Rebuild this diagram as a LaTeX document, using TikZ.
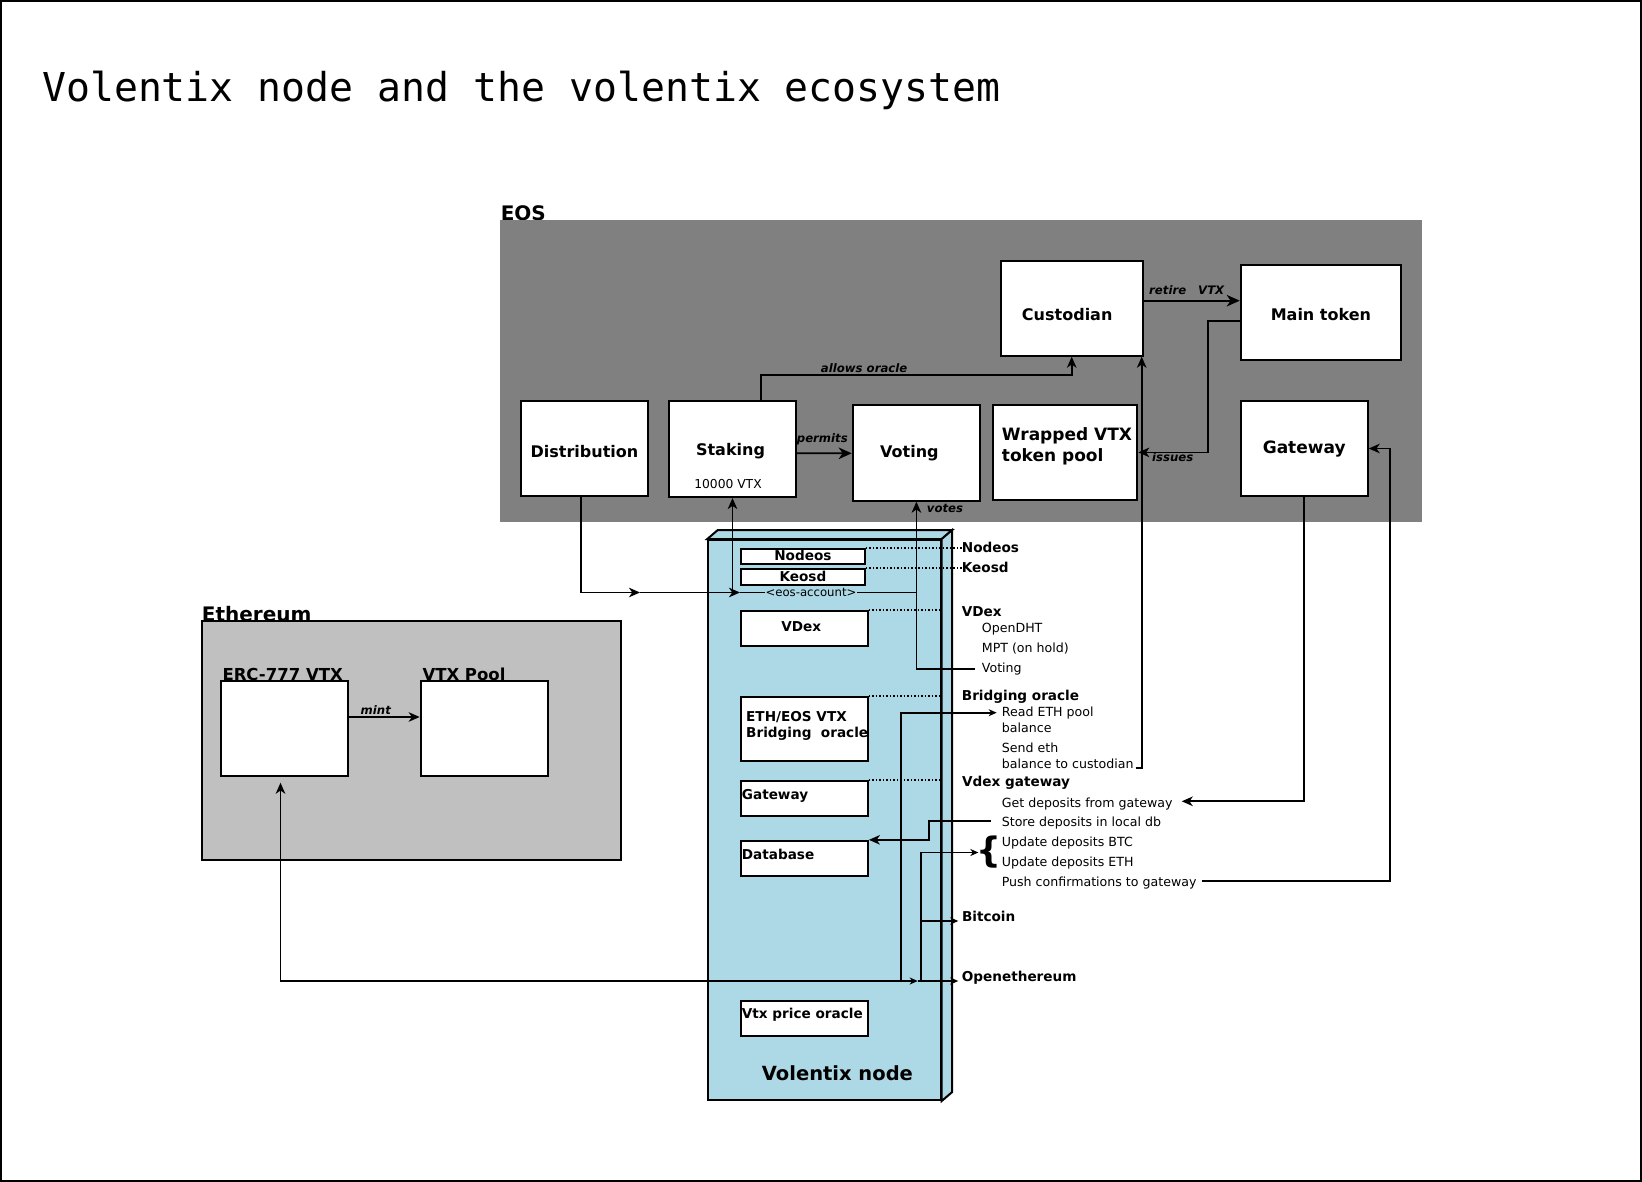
\documentclass[tikz,border=0pt]{standalone}
\usepackage{fontspec}
\setmainfont{DejaVu Sans}
\newfontfamily\ttlfont{DejaVu Sans Mono}
\usetikzlibrary{arrows.meta}
\definecolor{eosgrey}{HTML}{808080}
\definecolor{ethgrey}{HTML}{C0C0C0}
\definecolor{nodeblue}{HTML}{ADD8E6}
\tikzset{
  tipL/.tip={Stealth[length=13pt,width=11.5pt,inset=3.8pt]},
  tipM/.tip={Stealth[length=11pt,width=9.5pt,inset=3.2pt]},
  tipS/.tip={Stealth[length=8pt,width=7pt,inset=2.4pt]},
  bx/.style={draw=black, fill=white, line width=2pt, inner sep=0pt, text depth=0pt, font=\fontsize{16}{19}\selectfont\bfseries},
  ibx/.style={draw=black, fill=white, line width=1.8pt, inner sep=0pt, text depth=0pt, font=\fontsize{13.6}{16}\selectfont\bfseries},
  regionlbl/.style={font=\fontsize{20}{24}\selectfont\bfseries, inner sep=0pt, anchor=base west},
  boxtxt/.style={font=\fontsize{17}{21}\selectfont\bfseries, inner sep=0pt},
  itxt/.style={font=\fontsize{13.6}{16.6}\selectfont\bfseries, inner sep=0pt, anchor=base west},
  hdr/.style={font=\fontsize{13.6}{16}\selectfont\bfseries, inner sep=0pt, anchor=base west},
  subtxt/.style={font=\fontsize{12.6}{15}\selectfont, inner sep=0pt, anchor=base west},
  albl/.style={font=\fontsize{11.7}{14}\selectfont\bfseries\itshape, inner sep=0pt, anchor=base west},
  conn/.style={line width=1.8pt, draw=black, line join=miter},
  dotln/.style={line width=1.5pt, dotted},
  face/.style={draw=black, fill=nodeblue, line width=2pt, line join=miter}
}
\begin{document}
\begin{tikzpicture}[x=1pt, y=-1pt]
\useasboundingbox (0,0) rectangle (1642,1182);
\draw[line width=2pt] (1,1) rectangle (1641,1181);
\node[font=\ttlfont\fontsize{39.8}{46}\selectfont, inner sep=0pt, anchor=base west] (title) at (42,101.6) {Volentix node and the volentix ecosystem};

% ---------------- EOS region
\node[regionlbl] (eoslbl) at (500.6,220.7) {EOS};
\node[fill=eosgrey, inner sep=0pt, minimum width=922pt, minimum height=302pt] (eos) at (961,371) {};

\node[bx, minimum width=127.6pt, minimum height=95.3pt, text height=17.2pt] (dist) at (584.5,448.4) {Distribution};
\node[bx, minimum width=127pt, minimum height=96.3pt, text height=12.2pt] (staking) at (732.5,448.9) {Staking\kern4pt};
\node[font=\fontsize{12.3}{14}\selectfont, inner sep=0pt, anchor=base] (stakeamt) at (728,488.7) {10000 VTX};
\node[bx, minimum width=127.3pt, minimum height=96pt, text height=9.2pt] (voting) at (916.4,452.7) {Voting\kern14pt};
\node[bx, minimum width=144.6pt, minimum height=95.3pt] (wrap) at (1065,452.4) {};
\node[boxtxt, align=left, anchor=north west] (wraptxt) at (1001.7,427.8) {Wrapped VTX\\token pool};
\node[bx, minimum width=142pt, minimum height=95pt, text height=25pt] (cust) at (1071.7,308.2) {Custodian\kern9pt};
\node[bx, minimum width=160.3pt, minimum height=95pt, text height=16.4pt] (main) at (1320.9,312.5) {Main token};
\node[bx, minimum width=127pt, minimum height=95pt, text height=9pt, font=\fontsize{17}{20}\selectfont\bfseries] (gwE) at (1304.2,448.5) {Gateway};

% ---------------- Ethereum region
\node[regionlbl] (ethlbl) at (201.7,621) {Ethereum};
\node[draw=black, fill=ethgrey, line width=2pt, inner sep=0pt, minimum width=419.3pt, minimum height=239pt] (eth) at (411.35,740.5) {};
\node[font=\fontsize{16.5}{20}\selectfont\bfseries, inner sep=0pt, anchor=base west] (erclbl) at (222.3,680.7) {ERC-777 VTX};
\node[font=\fontsize{16.5}{20}\selectfont\bfseries, inner sep=0pt, anchor=base west] (poollbl) at (422.3,680.7) {VTX Pool};
\node[bx, minimum width=127pt, minimum height=95pt] (erc) at (284.5,728.2) {};
\node[bx, minimum width=127.6pt, minimum height=95pt] (pool) at (484.5,728.2) {};
\draw[conn,-tipM] ([yshift=11.2pt]erc.east) -- ([yshift=11.2pt]pool.west);
\node[albl, anchor=base] (mintlbl) at (375.8,714) {mint};

% ---------------- Volentix node (3D box)
\node[face, minimum width=232.4pt, minimum height=560pt, inner sep=0pt] (vnode) at (824.5,820) {};
\draw[face] (vnode.north west) -- ++(10.5,-9) -- ([shift={(10.5,-9)}]vnode.north east) -- (vnode.north east) -- cycle;
\draw[face] (vnode.north east) -- ([shift={(10.5,-9)}]vnode.north east) -- ([shift={(10.5,-9)}]vnode.south east) -- (vnode.south east) -- cycle;
\node[regionlbl, font=\fontsize{19.5}{23}\selectfont\bfseries] (vnodelbl) at (761.7,1080) {Volentix node};

\node[ibx, minimum width=124.3pt, minimum height=15.3pt, text height=8pt] (nodeos) at (802.9,556.7) {Nodeos};
\node[ibx, minimum width=124.3pt, minimum height=16pt, text height=8pt] (keosd) at (802.9,577) {Keosd};
\node[ibx, minimum width=127pt, minimum height=35.3pt, text height=5.2pt] (vdexbox) at (804.2,628.4) {VDex\kern6pt};
\node[ibx, minimum width=127pt, minimum height=64pt] (bridgebox) at (804.2,728.7) {};
\node[itxt, align=left, anchor=north west] (bridgetxt) at (746,710.8) {ETH/EOS VTX\\Bridging\ \ oracle};
\node[ibx, minimum width=127.4pt, minimum height=35.3pt] (gatebox) at (804.3,798.4) {};
\node[itxt] (gatetxt) at (741.7,799) {Gateway};
\node[ibx, minimum width=127.4pt, minimum height=35.3pt] (dbbox) at (804.3,858.4) {};
\node[itxt] (dbtxt) at (741.7,859) {Database};
\node[ibx, minimum width=127.6pt, minimum height=35.3pt] (vtxbox) at (804.5,1018.4) {};
\node[itxt] (vtxtxt) at (741.7,1018.3) {Vtx price oracle};

% ---------------- right-hand labels
\node[hdr] (nodeosL) at (961.7,552.3) {Nodeos};
\node[hdr] (keosdL) at (961.7,572.3) {Keosd};
\node[hdr] (vdexL) at (961.7,616.7) {VDex};
\node[subtxt] (odht) at (981.7,632.3) {OpenDHT};
\node[subtxt] (mpt) at (981.7,652.3) {MPT (on hold)};
\node[subtxt] (vsub) at (981.7,672.3) {Voting};
\node[hdr] (bridgeL) at (961.7,700.7) {Bridging oracle};
\node[subtxt] (read1) at (1001.7,716.7) {Read ETH pool};
\node[subtxt] (read2) at (1001.7,732.7) {balance};
\node[subtxt] (bal1) at (1001.7,752.7) {Send eth};
\node[subtxt] (bal2) at (1001.7,768.3) {balance to custodian};
\node[hdr] (vgwL) at (962,786.7) {Vdex gateway};
\node[subtxt] (get) at (1001.6,807) {Get deposits from gateway};
\node[subtxt] (store) at (1001.6,826.7) {Store deposits in local db};
\node[subtxt] (updbtc) at (1001.6,846.7) {Update deposits BTC};
\node[subtxt] (updeth) at (1001.6,866.7) {Update deposits ETH};
\node[subtxt] (push) at (1001.6,886.7) {Push confirmations to gateway};
\node[font=\fontsize{35}{35}\selectfont\bfseries, inner sep=0pt] (brace) at (989,852.5) {\{};
\node[hdr] (btc) at (961.8,921.5) {Bitcoin};
\node[hdr] (oe) at (961.7,981.7) {Openethereum};

% ---------------- dotted leaders
\draw[dotln] (nodeos.north east) -- (nodeos.north east -| nodeosL.west);
\draw[dotln] (keosd.north east) -- (keosd.north east -| keosdL.west);
\draw[dotln] (vdexbox.north east) -- (vdexbox.north east -| vnode.east);
\draw[dotln] (bridgebox.north east) -- (bridgebox.north east -| vnode.east);
\draw[dotln] (gatebox.north east) -- (gatebox.north east -| vnode.east);

% ---------------- connectors
\coordinate (jd) at (640,592.5);
\coordinate (je) at (740,592.5);
\draw[conn,-tipM] ([xshift=-3.5pt]dist.south) |- (jd);
\draw[conn,-tipM] (jd) -- (je);
\draw[conn] (je) -- (voting.south |- je);
\draw[conn,-tipM] (staking.south |- je) -- (staking.south);
\draw[conn,-tipM] ([xshift=-6.7pt]vsub.west) -| (voting.south);
\node[albl] (voteslbl) at (926.7,512.3) {votes};

\draw[conn,-tipL] ([yshift=-4.4pt]staking.east) -- ([yshift=-0.6pt]voting.west);
\node[albl] (permlbl) at (796.7,442.7) {permits};

\draw[conn,-tipM] ([xshift=28.5pt]staking.north) -- ++(0,-25) -| (cust.south);
\node[albl] (allowlbl) at (820.7,372.7) {allows oracle};

\draw[conn,-tipL] ([yshift=7.5pt]cust.east) -- ([yshift=11.8pt]main.west);
\node[albl] (retirelbl) at (1149,295) {retire\hspace{12pt}VTX};

\draw[conn,-tipM] ([yshift=-8.2pt]main.west) -- ++(-32,0) |- (wrap.east);
\node[albl] (issueslbl) at (1152,461) {issues};

\draw[conn,-tipM] ([xshift=2pt]bal2.base east) -| ([xshift=-2pt]cust.south east);

\draw[conn,-tipM] (gwE.south) |- ([xshift=9pt,yshift=5.7pt]get.base east);
\draw[conn,-tipM] ([xshift=5pt,yshift=5.7pt]push.base east) -| ([xshift=21pt]gwE.east) -- (gwE.east);
\draw[conn,-tipM] ([xshift=-11pt,yshift=6pt]store.base west) -- ++(-62,0) |- (dbbox.north east);

\coordinate (jb) at (900.7,981);
\coordinate (jo) at (917.7,981);
\coordinate (jbr) at (920.7,981);
\coordinate (oeT) at ([xshift=-3.5pt]oe.base west);
\coordinate (btcT) at ([xshift=-3.5pt,yshift=0.5pt]btc.base west);
\draw[conn,-tipS] (jb) |- ([xshift=-5pt,yshift=4pt]read1.base west);
\draw[conn,{tipM}-{tipS}] ([xshift=-4pt,yshift=-6pt]erc.south) |- (jo);
\draw[conn,-tipS] (jo) -- (jo -| oeT);
\draw[conn,-tipS] (jbr) |- ([xshift=2pt]brace.west);
\draw[conn,-tipS] (jbr |- btcT) -- (btcT);

\node[font=\fontsize{11.7}{14}\selectfont, inner sep=1pt, fill=nodeblue] (eosacc) at (811,592.5) {<eos-account>};
\end{tikzpicture}
\end{document}
